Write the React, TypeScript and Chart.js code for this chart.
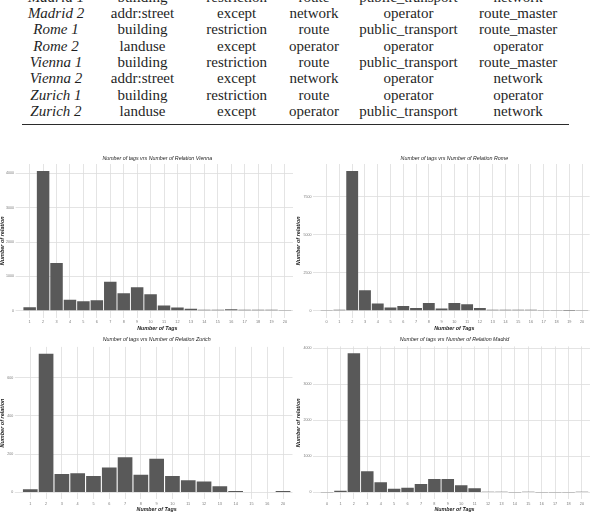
import { useEffect, useRef } from "react";
import { Chart, registerables } from "chart.js";

Chart.register(...registerables);

// ---- Table: most frequent tags per city ----
const tableCities = ["Madrid 1", "Madrid 2", "Rome 1", "Rome 2", "Vienna 1", "Vienna 2", "Zurich 1", "Zurich 2"];
const tableTagA = ["building", "addr:street", "building", "landuse", "building", "addr:street", "building", "landuse"];
const tableTagB = ["restriction", "except", "restriction", "except", "restriction", "except", "restriction", "except"];
const tableTagC = ["route", "network", "route", "operator", "route", "network", "route", "operator"];
const tableTagD = ["public_transport", "operator", "public_transport", "operator", "public_transport", "operator", "operator", "public_transport"];
const tableTagE = ["network", "route_master", "route_master", "operator", "route_master", "network", "operator", "network"];

// ---- Histogram data: number of relations per number of tags ----
const viennaTags = ["1", "2", "3", "4", "5", "6", "7", "8", "9", "10", "11", "12", "13", "14", "15", "16", "17", "18", "19", "20"];
const viennaRelations = [100, 4068, 1388, 320, 272, 301, 845, 505, 680, 476, 155, 97, 58, 29, 29, 39, 29, 29, 29, 8];
const viennaYTicks = [0, 1000, 2000, 3000, 4000];

const romeTags = ["0", "1", "2", "3", "4", "5", "6", "7", "8", "9", "10", "11", "12", "13", "14", "15", "16", "17", "18", "19", "20"];
const romeRelations = [8, 66, 9190, 1338, 482, 219, 307, 175, 504, 153, 504, 417, 175, 66, 66, 66, 66, 10, 6, 5, 9];
const romeYTicks = [0, 2500, 5000, 7500];

const zurichTags = ["1", "2", "3", "4", "5", "6", "7", "8", "9", "10", "11", "12", "13", "14", "15", "16", "20"];
const zurichRelations = [16, 725, 96, 99, 85, 130, 184, 92, 176, 85, 63, 57, 31, 7, 1, 1, 7];
const zurichYTicks = [0, 200, 400, 600];

const madridTags = ["0", "1", "2", "3", "4", "5", "6", "7", "8", "9", "10", "11", "12", "13", "14", "15", "16", "17", "18", "20"];
const madridRelations = [2, 46, 3861, 583, 278, 102, 130, 231, 370, 370, 194, 111, 19, 19, 3, 19, 3, 2, 2, 19];
const madridYTicks = [0, 1000, 2000, 3000, 4000];

const SANS = "'Liberation Sans', Arial, Helvetica, sans-serif";
const GRID = "#dddddd";
const BAR = "#595959";
const TICK_COLOR = "#7a7a7a";
const TEXT = "#222222";

type Box = { left: number; top: number; width: number; height: number };
type Area = { left: number; right: number; top: number; bottom: number };

type PanelProps = {
  box: Box;
  area: Area;
  titleY: number;
  title: string;
  labels: string[];
  values: number[];
  yTicks: number[];
  xTitlePad: number;
};

function BarPanel({ box, area, titleY, title, labels, values, yTicks, xTitlePad }: PanelProps) {
  const ref = useRef<HTMLCanvasElement>(null);

  useEffect(() => {
    const canvas = ref.current;
    if (!canvas) return;
    const maxVal = Math.max(...values);
    const n = labels.length;

    // centred plot title over the panel
    const panelTitle = {
      id: "panelTitle",
      afterDraw(chart: any) {
        const { ctx, chartArea } = chart;
        ctx.save();
        ctx.font = `italic 5.3px ${SANS}`;
        ctx.fillStyle = "#222222";
        ctx.textAlign = "center";
        ctx.textBaseline = "middle";
        ctx.fillText(title, (chartArea.left + chartArea.right) / 2, titleY - box.top);
        ctx.restore();
      },
    };

    const chart = new Chart(canvas, {
      type: "bar",
      data: {
        datasets: [
          {
            data: labels.map((_, i) => ({ x: i, y: values[i] })),
            backgroundColor: BAR,
            borderWidth: 0,
            barPercentage: 0.93,
            categoryPercentage: 1,
          },
        ],
      },
      options: {
        animation: false,
        responsive: false,
        events: [],
        layout: {
          padding: {
            left: 0,
            top: area.top - box.top,
            right: box.left + box.width - area.right,
            bottom: 0,
          },
        },
        plugins: {
          legend: { display: false },
          tooltip: { enabled: false },
          title: { display: false },
        },
        scales: {
          x: {
            type: "linear",
            min: -0.6,
            max: n - 1 + 0.6,
            offset: false,
            border: { display: false },
            grid: { color: GRID, lineWidth: 0.8, drawTicks: false, offset: false },
            afterBuildTicks: (s: any) => {
              s.ticks = labels.map((_, i) => ({ value: i }));
            },
            afterFit: (s: any) => {
              s.height = box.top + box.height - area.bottom;
            },
            ticks: {
              autoSkip: false,
              maxRotation: 0,
              minRotation: 0,
              padding: 2,
              color: TICK_COLOR,
              font: { family: SANS, size: 3.8 },
              callback: (v: any) => labels[Math.round(v)] ?? "",
            },
            title: {
              display: true,
              text: "Number of Tags",
              color: TEXT,
              font: { family: SANS, size: 5.3, style: "italic", weight: "bold", lineHeight: 1 },
              padding: { top: 0, bottom: xTitlePad },
            },
          },
          y: {
            type: "linear",
            min: -0.05 * maxVal,
            max: 1.05 * maxVal,
            border: { display: false },
            grid: { color: GRID, lineWidth: 0.8, drawTicks: true, tickLength: 6 },
            afterBuildTicks: (s: any) => {
              s.ticks = yTicks.map((v) => ({ value: v }));
            },
            afterFit: (s: any) => {
              s.width = area.left - box.left;
            },
            ticks: {
              padding: 1.5,
              color: TICK_COLOR,
              font: { family: SANS, size: 3.6 },
              callback: (v: any) => String(v),
            },
            title: {
              display: true,
              text: "Number of relation",
              color: TEXT,
              font: { family: SANS, size: 5.5, style: "italic", weight: "bold", lineHeight: 1 },
              padding: 0,
            },
          },
        },
      } as any,
      plugins: [panelTitle],
    });
    return () => chart.destroy();
  }, [box, area, titleY, title, labels, values, yTicks, xTitlePad]);

  return (
    <canvas
      ref={ref}
      width={box.width}
      height={box.height}
      style={{ position: "absolute", left: box.left, top: box.top, width: box.width, height: box.height }}
    />
  );
}

const colCenters = [56, 142.5, 236.7, 314, 408.5, 518.2];

function TagTable() {
  const columns = [tableCities, tableTagA, tableTagB, tableTagC, tableTagD, tableTagE];
  return (
    <div
      style={{
        position: "absolute",
        left: 0,
        top: -11.3,
        width: 596,
        fontFamily: "'Liberation Serif', 'Times New Roman', serif",
        fontSize: 15,
        lineHeight: "16.35px",
        color: "#1f1f1f",
      }}
    >
      {tableCities.map((_, r) => (
        <div key={r} style={{ position: "relative", height: 16.35 }}>
          {columns.map((col, c) => (
            <span
              key={c}
              style={{
                position: "absolute",
                top: 0,
                left: colCenters[c],
                transform: "translateX(-50%)",
                whiteSpace: "nowrap",
                fontStyle: c === 0 ? "italic" : "normal",
              }}
            >
              {col[r]}
            </span>
          ))}
        </div>
      ))}
    </div>
  );
}

const panels: PanelProps[] = [
  {
    box: { left: 0, top: 146, width: 296, height: 188 },
    area: { left: 21.6, right: 293, top: 164, bottom: 317.7 },
    titleY: 158.3,
    title: "Number of tags vrs Number of Relation Vienna",
    labels: viennaTags,
    values: viennaRelations,
    yTicks: viennaYTicks,
    xTitlePad: 2.35,
  },
  {
    box: { left: 296, top: 146, width: 300, height: 188 },
    area: { left: 319, right: 589.7, top: 164, bottom: 317.7 },
    titleY: 158.3,
    title: "Number of tags vrs Number of Relation Rome",
    labels: romeTags,
    values: romeRelations,
    yTicks: romeYTicks,
    xTitlePad: 2.35,
  },
  {
    box: { left: 0, top: 328, width: 296, height: 185 },
    area: { left: 20.8, right: 292.5, top: 346.9, bottom: 499.2 },
    titleY: 340,
    title: "Number of tags vrs Number of Relation Zurich",
    labels: zurichTags,
    values: zurichRelations,
    yTicks: zurichYTicks,
    xTitlePad: 0.35,
  },
  {
    box: { left: 296, top: 328, width: 300, height: 185 },
    area: { left: 319, right: 590, top: 346.4, bottom: 499.3 },
    titleY: 340,
    title: "Number of tags vrs Number of Relation Madrid",
    labels: madridTags,
    values: madridRelations,
    yTicks: madridYTicks,
    xTitlePad: 0.35,
  },
];

export default function App() {
  return (
    <div
      style={{
        position: "absolute",
        left: 0,
        top: 0,
        width: 596,
        height: 513,
        overflow: "hidden",
        background: "#ffffff",
      }}
    >
      <TagTable />
      <div
        style={{ position: "absolute", left: 22, top: 123.5, width: 547, height: 1.3, background: "#2b2b2b" }}
      />
      {panels.map((p, i) => (
        <BarPanel key={i} {...p} />
      ))}
    </div>
  );
}
